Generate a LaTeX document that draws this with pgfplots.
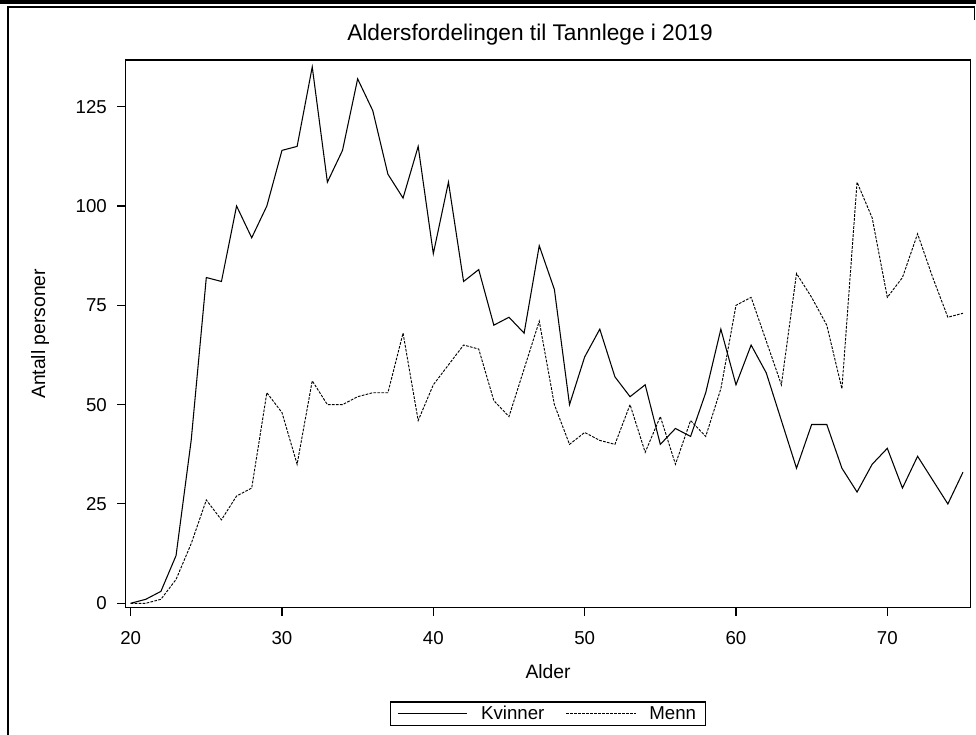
\documentclass[border=0pt]{standalone}
\usepackage{fontspec}
\setmainfont{Liberation Sans}
\usepackage{pgfplots}
\pgfplotsset{compat=1.18}
\begin{document}
\begin{tikzpicture}
\useasboundingbox (0,0) rectangle (732pt,551.25pt);
% outer frame
\fill[black] (0,547.9pt) rectangle (732pt,551.25pt);
\draw[line width=0.8pt] (6pt,0) -- (6pt,546pt) -- (731.2pt,546pt) -- (731.2pt,536pt);
\begin{axis}[
  at={(94.125pt,95.475pt)}, anchor=south west,
  scale only axis, width=633.9pt, height=410.8pt,
  xmin=19.66, xmax=75.51, ymin=-1.11, ymax=136.76,
  xtick={20,30,...,70}, ytick={0,25,...,125},
  tick align=outside, major tick length=6pt,
  tick style={black, line width=0.8pt},
  axis line style={line width=0.9pt},
  xtick pos=bottom, ytick pos=left,
  /pgf/number format/assume math mode=true,
  tick label style={font=\fontsize{14}{16}\selectfont},
  xticklabel style={yshift=-8pt},
  yticklabel style={xshift=-4.5pt},
  xlabel={Alder}, ylabel={Antall personer},
  every axis x label/.style={at={(rel axis cs:0.5,-0.117)}, anchor=center, font=\fontsize{14.5}{17}\selectfont},
  every axis y label/.style={at={(rel axis cs:-0.101,0.5)}, anchor=center, rotate=90, font=\fontsize{14.5}{17}\selectfont},
  title={Aldersfordelingen til Tannlege i 2019},
  title style={at={(rel axis cs:0.4786,1.0214)}, anchor=base, font=\fontsize{17}{20}\selectfont},
  legend style={at={(rel axis cs:0.5,-0.1937)}, anchor=center, legend columns=2,
    draw=black, line width=0.8pt, font=\fontsize{14}{16}\selectfont,
    inner ysep=1pt, inner xsep=5pt,
    /tikz/every odd column/.append style={column sep=8pt},
    /tikz/every even column/.append style={column sep=14pt}},
  legend image code/.code={\draw[#1] (0pt,0pt) -- (52pt,0pt);},
]
\addplot[black, line width=0.8pt] coordinates {
(20,0) (21,1) (22,3) (23,12) (24,41) (25,82) (26,81) (27,100) (28,92) (29,100)
(30,114) (31,115) (32,135) (33,106) (34,114) (35,132) (36,124) (37,108) (38,102) (39,115)
(40,88) (41,106) (42,81) (43,84) (44,70) (45,72) (46,68) (47,90) (48,79) (49,50)
(50,62) (51,69) (52,57) (53,52) (54,55) (55,40) (56,44) (57,42) (58,53) (59,69)
(60,55) (61,65) (62,58) (63,46) (64,34) (65,45) (66,45) (67,34) (68,28) (69,35)
(70,39) (71,29) (72,37) (73,31) (74,25) (75,33)};
\addlegendentry{Kvinner}
\addplot[black, line width=0.7pt, dash pattern=on 2pt off 1pt] coordinates {
(20,0) (21,0) (22,1) (23,6) (24,15) (25,26) (26,21) (27,27) (28,29) (29,53)
(30,48) (31,35) (32,56) (33,50) (34,50) (35,52) (36,53) (37,53) (38,68) (39,46)
(40,55) (41,60) (42,65) (43,64) (44,51) (45,47) (46,59) (47,71) (48,50) (49,40)
(50,43) (51,41) (52,40) (53,50) (54,38) (55,47) (56,35) (57,46) (58,42) (59,54)
(60,75) (61,77) (62,66) (63,55) (64,83) (65,77) (66,70) (67,54) (68,106) (69,97)
(70,77) (71,82) (72,93) (73,82) (74,72) (75,73)};
\addlegendentry{Menn}
\end{axis}
\end{tikzpicture}
\end{document}
